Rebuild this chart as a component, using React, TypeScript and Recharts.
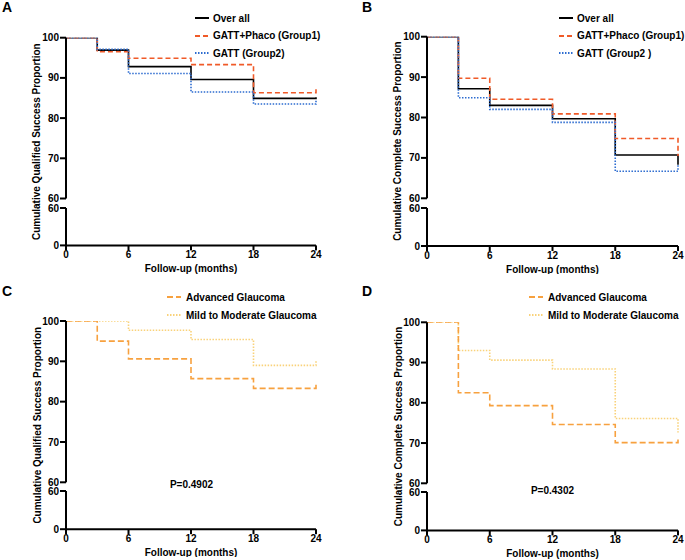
import React from 'react'
import { LineChart, Line, XAxis, YAxis, Legend } from 'recharts'

// follow-up time points (months)
const months = [0, 3, 6, 12, 18, 24]
const xTicks = [0, 6, 12, 18, 24]
const upperTicks = [60, 70, 80, 90, 100]
const lowerTicks = [0, 60]

// A - qualified success
const qualOverall = [100, 96.9, 92.8, 89.6, 84.9, 85.2]
const qualGroup1 = [100, 96.5, 94.9, 93.3, 86.3, 87.2]
const qualGroup2 = [100, 97.1, 91.1, 86.5, 83.5, 84.6]

// B - complete success
const compOverall = [100, 87.1, 83.0, 79.7, 70.7, 68.3]
const compGroup1 = [100, 89.7, 84.5, 80.9, 74.8, 70.5]
const compGroup2 = [100, 84.9, 82.0, 78.8, 66.7, 68.3]

// C - qualified success by severity
const qualAdvanced = [100, 95.0, 90.6, 85.7, 83.3, 84.3]
const qualMild = [100, 100, 97.7, 95.4, 89.0, 90.0]

// D - complete success by severity
const compAdvanced = [100, 82.5, 79.3, 74.6, 70.1, 70.9]
const compMild = [100, 93.0, 90.6, 88.4, 76.1, 72.6]

const FONT = '"Liberation Sans", Arial, Helvetica, sans-serif'
const YW = 40
const RM = 10
const BM = 4
const XH = 28

interface SeriesDef {
  key: string
  name: string
  color: string
  dash?: string
}

interface Geometry {
  top: number
  axisX: number
  right: number
  y100: number
  y60a: number
  y60b: number
  y0: number
}

interface LegendPos {
  iconX: number
  textX: number
  rowY: number[]
}

const groupSeries = (g2Name: string): SeriesDef[] => [
  { key: 'overall', name: 'Over all', color: '#000000' },
  { key: 'group1', name: 'GATT+Phaco (Group1)', color: '#f05a28', dash: '5 3' },
  { key: 'group2', name: g2Name, color: '#2d6cd0', dash: '1.5 1.5' },
]

const severitySeries: SeriesDef[] = [
  { key: 'mild', name: 'Mild to Moderate Glaucoma', color: '#f9d27a', dash: '1.5 1.5' },
  { key: 'advanced', name: 'Advanced Glaucoma', color: '#f7a13f', dash: '6 3' },
]

const rowsA = months.map((m, i) => ({ m, overall: qualOverall[i], group1: qualGroup1[i], group2: qualGroup2[i] }))
const rowsB = months.map((m, i) => ({ m, overall: compOverall[i], group1: compGroup1[i], group2: compGroup2[i] }))
const rowsC = months.map((m, i) => ({ m, advanced: qualAdvanced[i], mild: qualMild[i] }))
const rowsD = months.map((m, i) => ({ m, advanced: compAdvanced[i], mild: compMild[i] }))

const tickStyle = { fontSize: 10, fontWeight: 700, fill: '#000', fontFamily: FONT }
const axisStroke = { stroke: '#000', strokeWidth: 2 }

interface PanelProps {
  g: Geometry
  rows: Array<Record<string, number>>
  series: SeriesDef[]
  legendOrder: SeriesDef[]
  legend: LegendPos
}

function Panel({ g, rows, series, legendOrder, legend }: PanelProps) {
  const chartLeft = g.axisX - YW
  const chartW = Math.round(YW + (g.right - g.axisX) + RM)
  const topMargin = g.y100 - g.top
  const topBottom = 8
  const topH = g.y60a - g.top + topBottom
  const botTop = 8
  const botH = botTop + (g.y0 - g.y60b) + XH
  const rowH = legend.rowY[1] - legend.rowY[0]

  const renderLegend = () => (
    <div>
      {legendOrder.map(s => (
        <div key={s.key} style={{ display: 'flex', alignItems: 'center', height: rowH }}>
          <svg width={14} height={4} style={{ display: 'block' }}>
            <line x1={0} y1={2} x2={14} y2={2} stroke={s.color} strokeWidth={2} strokeDasharray={s.dash} />
          </svg>
          <span
            style={{
              marginLeft: legend.textX - legend.iconX - 14,
              fontSize: 10,
              fontWeight: 700,
              color: '#000',
              whiteSpace: 'nowrap',
            }}
          >
            {s.name}
          </span>
        </div>
      ))}
    </div>
  )

  return (
    <>
      <div style={{ position: 'absolute', left: chartLeft, top: g.top }}>
        <LineChart width={chartW} height={topH} data={rows} margin={{ top: topMargin, right: RM, bottom: topBottom, left: 0 }}>
          <XAxis type="number" dataKey="m" domain={[0, 24]} hide />
          <YAxis
            type="number"
            domain={[60, 100]}
            allowDataOverflow
            ticks={upperTicks}
            width={YW}
            tick={tickStyle}
            tickSize={6}
            tickMargin={1}
            axisLine={axisStroke}
            tickLine={axisStroke}
            interval={0}
          />
          <Legend
            layout="horizontal"
            verticalAlign="middle"
            align="center"
            content={renderLegend}
            wrapperStyle={{ left: legend.iconX - chartLeft, top: legend.rowY[0] - rowH / 2 - g.top, width: 220, height: 'auto' }}
          />
          {series.map(s => (
            <Line
              key={s.key}
              type="stepAfter"
              dataKey={s.key}
              stroke={s.color}
              strokeWidth={1.6}
              strokeDasharray={s.dash}
              dot={false}
              activeDot={false}
              isAnimationActive={false}
            />
          ))}
        </LineChart>
      </div>
      <div style={{ position: 'absolute', left: chartLeft, top: g.y60b - botTop }}>
        <LineChart width={chartW} height={botH} data={rows} margin={{ top: botTop, right: RM, bottom: 0, left: 0 }}>
          <XAxis
            type="number"
            dataKey="m"
            domain={[0, 24]}
            ticks={xTicks}
            interval={0}
            height={XH}
            tick={tickStyle}
            tickSize={5}
            tickMargin={1}
            axisLine={axisStroke}
            tickLine={axisStroke}
            label={{
              value: 'Follow-up (months)',
              position: 'insideBottom',
              offset: 1,
              style: { fontSize: 10, fontWeight: 700, fill: '#000', fontFamily: FONT },
            }}
          />
          <YAxis
            type="number"
            domain={[0, 60]}
            allowDataOverflow
            ticks={lowerTicks}
            width={YW}
            tick={tickStyle}
            tickSize={6}
            tickMargin={1}
            axisLine={axisStroke}
            tickLine={axisStroke}
            interval={0}
          />
          {/* no survival values fall below 60, the lower segment only carries the axis */}
          <Line dataKey={series[0].key} stroke="none" dot={false} activeDot={false} legendType="none" isAnimationActive={false} />
        </LineChart>
      </div>
    </>
  )
}

const gA: Geometry = { top: 0, axisX: 66, right: 316, y100: 37.7, y60a: 198.5, y60b: 208.3, y0: 245.7 }
const gB: Geometry = { top: 0, axisX: 427, right: 678, y100: 36.7, y60a: 198.3, y60b: 207.5, y0: 245.5 }
const gC: Geometry = { top: 280, axisX: 66, right: 316, y100: 321, y60a: 482.3, y60b: 491.3, y0: 529.5 }
const gD: Geometry = { top: 280, axisX: 427, right: 678, y100: 322.3, y60a: 483.3, y60b: 492.3, y0: 530.7 }

const seriesA = groupSeries('GATT (Group2)')
const seriesB = groupSeries('GATT (Group2 )')
const severityLegend = [severitySeries[1], severitySeries[0]]

const titleStyle = { fontSize: 10, fontWeight: 700, fill: '#000', fontFamily: FONT }
const letterStyle = { fontSize: 14, fontWeight: 700, fill: '#000', fontFamily: FONT }

function YTitle({ g, text }: { g: Geometry; text: string }) {
  const x = g.axisX - 29
  const y = (g.y100 + g.y0) / 2
  return (
    <text x={x} y={y} transform={`rotate(-90 ${x} ${y})`} textAnchor="middle" dominantBaseline="central" style={titleStyle}>
      {text}
    </text>
  )
}

export default function App() {
  return (
    <div
      style={{
        position: 'absolute',
        left: 0,
        top: 0,
        width: 685,
        height: 560,
        overflow: 'hidden',
        background: '#fff',
        fontFamily: FONT,
      }}
    >
      <Panel g={gA} rows={rowsA} series={seriesA} legendOrder={seriesA} legend={{ iconX: 195, textX: 213, rowY: [18, 35.5, 53] }} />
      <Panel g={gB} rows={rowsB} series={seriesB} legendOrder={seriesB} legend={{ iconX: 559, textX: 577, rowY: [18, 35.5, 53] }} />
      <Panel g={gC} rows={rowsC} series={severitySeries} legendOrder={severityLegend} legend={{ iconX: 167, textX: 186, rowY: [297, 315] }} />
      <Panel g={gD} rows={rowsD} series={severitySeries} legendOrder={severityLegend} legend={{ iconX: 529, textX: 548, rowY: [297, 315] }} />
      <svg width={685} height={560} style={{ position: 'absolute', left: 0, top: 0, pointerEvents: 'none' }}>
        <text x={2} y={12} style={letterStyle}>A</text>
        <text x={362} y={12} style={letterStyle}>B</text>
        <text x={2} y={296} style={letterStyle}>C</text>
        <text x={362} y={296} style={letterStyle}>D</text>
        <YTitle g={gA} text="Cumulative Qualified Success Proportion" />
        <YTitle g={gB} text="Cumulative Complete Success Proportion" />
        <YTitle g={gC} text="Cumulative Qualified Success Proportion" />
        <YTitle g={gD} text="Cumulative Complete Success Proportion" />
        <text x={191.5} y={484} textAnchor="middle" dominantBaseline="central" style={titleStyle}>P=0.4902</text>
        <text x={552.5} y={490} textAnchor="middle" dominantBaseline="central" style={titleStyle}>P=0.4302</text>
      </svg>
    </div>
  )
}
